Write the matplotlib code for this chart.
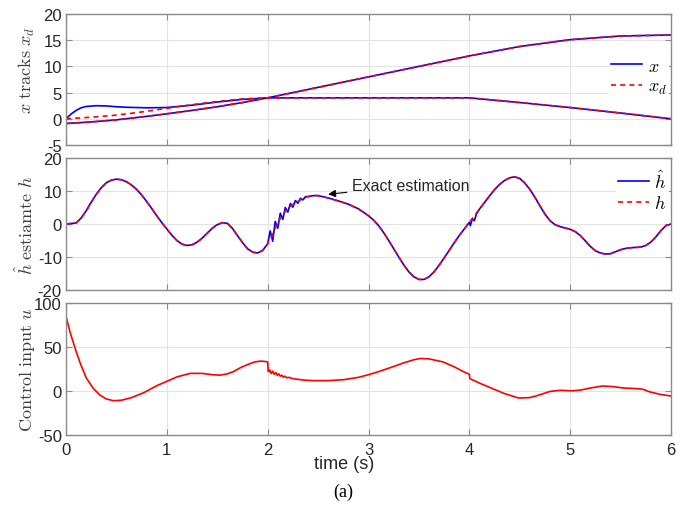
import matplotlib
matplotlib.use("Agg")
import matplotlib.pyplot as plt
import numpy as np

plt.rcParams['mathtext.fontset'] = 'cm'
plt.rcParams['axes.unicode_minus'] = False
plt.rcParams['font.family'] = ['Liberation Sans', 'DejaVu Sans']

# ---------------- data ----------------
# top panel: tracking
t_x1 = [0, 0.25, 0.5, 0.75, 1, 1.25, 1.5, 1.75, 2, 2.5, 3, 3.5, 4, 4.5, 5, 5.5, 6]
x1 = [-0.9, -0.6, -0.2, 0.35, 0.95, 1.6, 2.3, 3.1, 4.0, 6.0, 8.0, 10.0, 12.0, 13.8, 15.1, 15.8, 16.0]
x1d = [-0.9, -0.6, -0.2, 0.35, 0.95, 1.6, 2.3, 3.1, 4.0, 6.0, 8.0, 10.0, 12.0, 13.8, 15.1, 15.8, 16.0]

t_x2 = [0, 0.05, 0.1, 0.15, 0.2, 0.3, 0.4, 0.5, 0.6, 0.8, 1.0, 1.25, 1.5, 1.75, 2, 2.5, 3, 3.5, 4, 4.5, 5, 5.5, 6]
x2 = [0, 0.9, 1.6, 2.1, 2.35, 2.5, 2.45, 2.3, 2.2, 2.1, 2.15, 2.6, 3.2, 3.7, 4.0, 4.0, 4.0, 4.0, 4.0, 3.1, 2.15, 1.1, 0]
t_x2d = [0, 0.25, 0.5, 0.75, 1, 1.25, 1.5, 1.75, 2, 2.5, 3, 3.5, 4, 4.5, 5, 5.5, 6]
x2d = [0, 0.3, 0.7, 1.3, 2.0, 2.7, 3.3, 3.8, 4.0, 4.0, 4.0, 4.0, 4.0, 3.1, 2.15, 1.1, 0]

# middle panel: disturbance h and estimate
t_h = [0, 0.1, 0.15, 0.2, 0.25, 0.3, 0.35, 0.4, 0.45, 0.5, 0.55, 0.6, 0.65, 0.7, 0.75, 0.8,
       0.85, 0.9, 0.95, 1.0, 1.05, 1.1, 1.15, 1.2, 1.25, 1.3, 1.35, 1.4, 1.45, 1.5, 1.55,
       1.6, 1.65, 1.7, 1.75, 1.8, 1.85, 1.9, 1.95, 2.0, 2.05, 2.1, 2.15, 2.2, 2.25, 2.3, 2.35,
       2.4, 2.45, 2.5, 2.6, 2.7, 2.8, 2.9, 3.0, 3.05, 3.1, 3.15, 3.2, 3.25, 3.3, 3.35, 3.4,
       3.45, 3.5, 3.55, 3.6, 3.65, 3.7, 3.75, 3.8, 3.85, 3.9, 3.95, 4.0, 4.05, 4.1, 4.15,
       4.2, 4.25, 4.3, 4.35, 4.4, 4.45, 4.5, 4.55, 4.6, 4.65, 4.7, 4.75, 4.8, 4.85, 4.9,
       4.95, 5.0, 5.05, 5.1, 5.15, 5.2, 5.25, 5.3, 5.35, 5.4, 5.45, 5.5, 5.55, 5.6, 5.65,
       5.7, 5.75, 5.8, 5.85, 5.9, 5.95, 6.0]
h = [0, 0.3, 1.8, 4, 6.6, 9, 11, 12.5, 13.3, 13.6, 13.4, 12.8, 11.8, 10.5, 8.8, 6.8,
     4.7, 2.5, 0.4, -1.5, -3.4, -5, -6.1, -6.5, -6.3, -5.5, -4.3, -2.8, -1.3, -0.2, 0.4,
     0.2, -1.3, -3.5, -5.6, -7.5, -8.5, -8.8, -8.0, -6, -3, 0.5, 2.8, 4.7, 5.9, 6.9, 7.7,
     8.3, 8.6, 8.6, 7.9, 7.0, 6.0, 4.6, 2.5, 1.2, -0.5, -2.6, -5, -7.5, -10, -12.4, -14.5,
     -16.0, -16.8, -16.8, -16, -14.5, -12.5, -10.3, -8, -5.7, -3.5, -1.5, 0.5, 2.5, 4.5, 6.5,
     8.5, 10.4, 12, 13.2, 14, 14.3, 13.8, 12.4, 10.5, 8.1, 5.5, 3.0, 1, -0.2, -0.8,
     -1.2, -1.6, -2.3, -3.5, -5.1, -6.8, -8.1, -8.8, -9.1, -9, -8.4, -7.8, -7.4, -7.2, -7.1,
     -7, -6.5, -5.5, -3.9, -2, -0.5, 0]

# estimate: chattering segment after t = 2 and a small jump at t = 4
t_chat = [2.0, 2.025, 2.05, 2.075, 2.1, 2.125, 2.15, 2.175, 2.2, 2.225, 2.25, 2.275,
          2.3, 2.325, 2.35, 2.375, 2.4]
hhat_chat = [-6, -2.1, -5.2, 0.8, -1.3, 3.3, 1.4, 5.0, 3.6, 6.2, 5.1, 7.1,
             6.3, 7.8, 7.3, 8.3, 8.3]
t_blip = [4.0, 4.01, 4.03, 4.05, 4.07, 4.1]
hhat_blip = [0.5, -0.5, 1.6, 1.0, 3.0, 4.5]

# bottom panel: control input
t_u = [0, 0.02, 0.04, 0.07, 0.1, 0.14, 0.2, 0.27, 0.34, 0.4, 0.47, 0.55, 0.65, 0.77, 0.9,
       1.0, 1.1, 1.23, 1.35, 1.45, 1.53, 1.6, 1.66, 1.73, 1.8, 1.87, 1.93, 1.98, 2.0,
       2.005, 2.02, 2.035, 2.05, 2.065, 2.08, 2.095, 2.11, 2.125, 2.14, 2.155, 2.17, 2.19,
       2.21, 2.25, 2.35, 2.45, 2.6, 2.75, 2.9, 3.0, 3.1, 3.24, 3.35, 3.45, 3.52, 3.6, 3.74,
       3.85, 3.95, 4.0, 4.005, 4.1, 4.23, 4.35, 4.49, 4.6, 4.68, 4.8, 4.9, 5.02, 5.1, 5.2,
       5.32, 5.42, 5.53, 5.66, 5.72, 5.79, 5.9, 6.0]
u = [85, 76, 67, 56, 45, 32, 15, 3, -5, -9, -11, -10.5, -7.5, -2, 6,
     11, 16, 20, 20, 18.5, 18, 19.5, 22, 26.5, 30, 33, 34, 33.5, 33,
     22, 24, 20, 22.5, 19, 21, 17.8, 19.5, 16.8, 18, 15.8, 16.8, 15,
     15.5, 14, 12.5, 11.8, 11.8, 12.8, 15.5, 18.5, 22, 27.5, 32, 35.5, 37, 36.5, 33,
     27.5, 21.5, 19, 14, 9, 2.7, -3, -8, -7.5, -5, -0.5, 0.8, 0.2, 1, 3.4,
     5.7, 5, 3.4, 2.7, 2, -1, -4, -5.7]

x_ticks = [0, 1, 2, 3, 4, 5, 6]
x_ticklabels = ['0', '1', '2', '3', '4', '5', '6']
y_ticks_top = [-5, 0, 5, 10, 15, 20]
y_ticks_mid = [-20, -10, 0, 10, 20]
y_ticks_bot = [-50, 0, 50, 100]

# build estimate series from pieces
t_h_arr = np.array(t_h)
h_arr = np.array(h)
m1 = t_h_arr < 2.0
m2 = (t_h_arr > 2.4) & (t_h_arr < 4.0)
m3 = t_h_arr > 4.1
t_hhat = np.concatenate([t_h_arr[m1], t_chat, t_h_arr[m2], t_blip, t_h_arr[m3]])
hhat = np.concatenate([h_arr[m1], hhat_chat, h_arr[m2], hhat_blip, h_arr[m3]])

# ---------------- figure ----------------
W, H = 686, 510
fig = plt.figure(figsize=(W / 100, H / 100), dpi=100)

def box(top, bottom, left=66, right=671):
    return [left / W, 1 - bottom / H, (right - left) / W, (bottom - top) / H]

ax1 = fig.add_axes(box(15, 146))
ax2 = fig.add_axes(box(159, 291))
ax3 = fig.add_axes(box(304, 436))

BLUE = '#0000ff'
RED = '#ff0000'
GRID = '#e3e3e3'
SPINE = '#8a8a8a'
TXT = '#262626'
LBL = '#3c3c3c'

def style(ax, yticks, ylim, show_x=False):
    ax.set_xlim(0, 6)
    ax.set_ylim(*ylim)
    ax.set_xticks(x_ticks)
    ax.set_yticks(yticks)
    ax.set_yticklabels([str(v) for v in yticks])
    if show_x:
        ax.set_xticklabels(x_ticklabels)
    else:
        ax.set_xticklabels([])
    ax.grid(True, color=GRID, linewidth=0.8)
    ax.set_axisbelow(True)
    for s in ax.spines.values():
        s.set_color(SPINE)
        s.set_linewidth(1.0)
    ax.tick_params(direction='in', top=True, right=True, length=4, width=0.8,
                   color=SPINE, labelsize=12, labelcolor=TXT, pad=3)
    ax.tick_params(axis='x', pad=5)

def white_legend(ax, anchor_y, spacing):
    leg = ax.legend(loc='center right', bbox_to_anchor=(0.997, anchor_y), frameon=True,
                    fontsize=13, handlelength=1.7, handletextpad=0.3, labelspacing=spacing,
                    borderpad=0.15, borderaxespad=0.0)
    fr = leg.get_frame()
    fr.set_facecolor('white')
    fr.set_edgecolor('none')
    fr.set_alpha(1)
    return leg

# top
ax1.plot(t_x1, x1, color=BLUE, lw=1.2)
ax1.plot(t_x2, x2, color=BLUE, lw=1.2, label='$x$')
ax1.plot(t_x1, x1d, color=RED, lw=1.2, ls=(0, (3, 2.5)))
ax1.plot(t_x2d, x2d, color=RED, lw=1.2, ls=(0, (3, 2.5)), label='$x_d$')
style(ax1, y_ticks_top, (-5, 20))
ax1.set_ylabel(r'$x\ \mathrm{tracks}\ x_d$', fontsize=13, color=LBL)
ax1.yaxis.set_label_coords(-0.048, 0.58)
white_legend(ax1, 0.52, 0.2)

# middle
ax2.plot(t_hhat, hhat, color=BLUE, lw=1.2, label=r'$\hat{h}$')
ax2.plot(t_h, h, color=RED, lw=1.2, ls=(0, (3, 2.5)), label='$h$')
style(ax2, y_ticks_mid, (-20, 20))
ax2.set_ylabel(r'$\hat{h}\ \mathrm{estiamte}\ h$', fontsize=13, color=LBL)
ax2.yaxis.set_label_coords(-0.048, 0.5)
white_legend(ax2, 0.75, 0.2)
ax2.annotate('Exact estimation', xy=(2.6, 9.0), xytext=(2.84, 11.7),
             fontsize=11.5, color=TXT, va='center', ha='left',
             arrowprops=dict(arrowstyle='-|>', color='black', lw=0.8,
                             mutation_scale=11, shrinkA=2, shrinkB=0))

# bottom
ax3.plot(t_u, u, color=RED, lw=1.2)
style(ax3, y_ticks_bot, (-50, 100), show_x=True)
ax3.set_ylabel(r'$\mathrm{Control\ input}\ u$', fontsize=13, color=LBL)
ax3.yaxis.set_label_coords(-0.048, 0.5)
ax3.set_xlabel('time (s)', fontsize=13, color=TXT)
ax3.xaxis.set_label_coords(0.46, -0.155)

fig.text(0.5, 1 - 492 / H, '(a)', ha='center', va='center', fontsize=13,
         family='Liberation Serif', color='black')

fig.savefig('out.png', dpi=100)
